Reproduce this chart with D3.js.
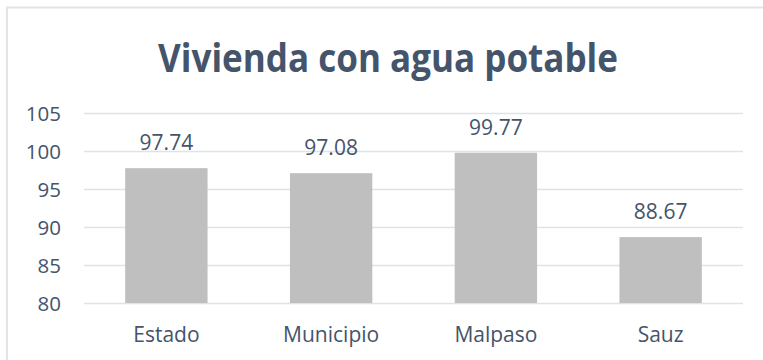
<!DOCTYPE html>
<html>
<head>
<meta charset="utf-8">
<script src="https://cdn.jsdelivr.net/npm/d3@7"></script>
<style>
  html, body { margin: 0; padding: 0; background: #ffffff; }
  svg { display: block; }
</style>
</head>
<body>
<svg id="chart" width="763" height="360"></svg>
<script>
// Chart data
const categories = ["Estado", "Municipio", "Malpaso", "Sauz"];
const values = [97.74, 97.08, 99.77, 88.67];
const yTicks = [80, 85, 90, 95, 100, 105];
const titleText = "Vivienda con agua potable";

const W = 763, H = 360;
const margin = { left: 84, right: 20, top: 113, bottom: 57 };
const textColor = "#44546a";
const gridColor = "#dfe2e7";
const barColor = "#bfbfbf";
const font = "'Open Sans', sans-serif";

const svg = d3.select("#chart");

// Chart frame (runs off the right and bottom edges)
svg.append("path")
  .attr("d", `M7,${H + 5} V7.5 H${W + 5}`)
  .attr("fill", "none")
  .attr("stroke", "#e1e4e8")
  .attr("stroke-width", 2);

const x = d3.scaleBand()
  .domain(categories)
  .range([margin.left, 743])
  .paddingInner(0.5)
  .paddingOuter(0.25);

const y = d3.scaleLinear()
  .domain([80, 105])
  .range([303, 113]);

// Horizontal gridlines
const yAxis = d3.axisLeft(y)
  .tickValues(yTicks)
  .tickSize(-(743 - margin.left))
  .tickPadding(23)
  .tickFormat(d3.format("d"));

const gy = svg.append("g")
  .attr("transform", `translate(${margin.left},0)`)
  .call(yAxis);
gy.select(".domain").remove();
gy.selectAll(".tick line")
  .attr("stroke", gridColor)
  .attr("stroke-width", 1.6);
gy.selectAll(".tick text")
  .attr("fill", textColor)
  .attr("font-family", font)
  .attr("font-size", 20.5)
  .attr("dy", "0.36em");

// Bars
svg.append("g")
  .selectAll("rect")
  .data(values)
  .join("rect")
  .attr("x", (d, i) => x(categories[i]))
  .attr("y", d => y(d))
  .attr("width", x.bandwidth())
  .attr("height", d => y(80) - y(d))
  .attr("fill", barColor);

// Value labels
svg.append("g")
  .selectAll("text")
  .data(values)
  .join("text")
  .attr("x", (d, i) => x(categories[i]) + x.bandwidth() / 2)
  .attr("y", d => y(d) - 18)
  .attr("text-anchor", "middle")
  .attr("fill", textColor)
  .attr("font-family", font)
  .attr("font-size", 21)
  .text(d => d.toFixed(2));

// Category axis labels
const xAxis = d3.axisBottom(x).tickSize(0).tickPadding(24);
const gx = svg.append("g")
  .attr("transform", `translate(0,303)`)
  .call(xAxis);
gx.select(".domain").remove();
gx.selectAll(".tick text")
  .attr("fill", textColor)
  .attr("font-family", font)
  .attr("font-size", 21);

// Title
svg.append("text")
  .attr("x", 388)
  .attr("y", 72)
  .attr("text-anchor", "middle")
  .attr("fill", textColor)
  .attr("font-family", font)
  .attr("font-weight", 700)
  .attr("font-size", 40)
  .attr("textLength", 460)
  .attr("lengthAdjust", "spacingAndGlyphs")
  .text(titleText);
</script>
</body>
</html>
